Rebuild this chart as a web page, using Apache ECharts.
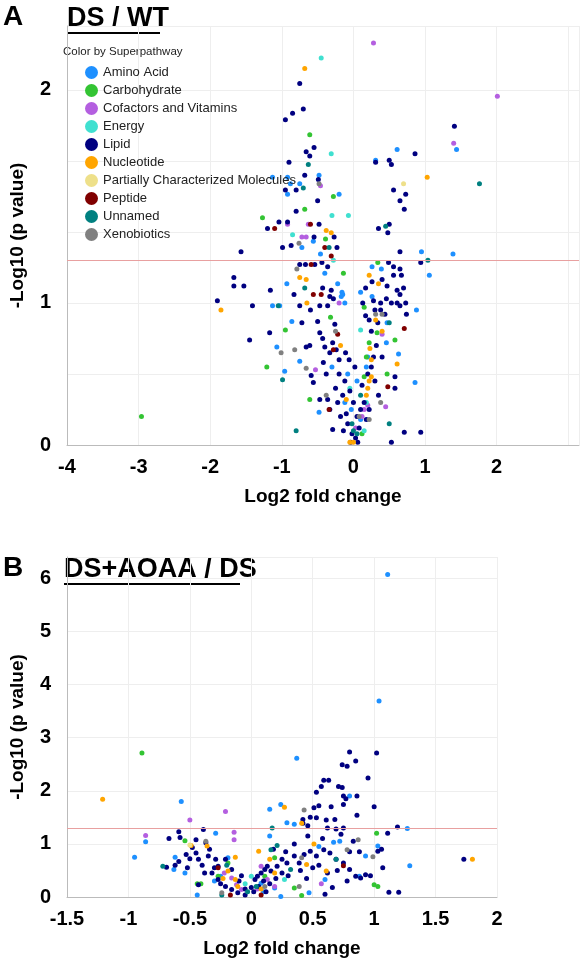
<!DOCTYPE html>
<html>
<head>
<meta charset="utf-8">
<script src="https://cdn.jsdelivr.net/npm/echarts@6/dist/echarts.min.js"></script>
<style>html,body{margin:0;padding:0;background:#fff}#chart{width:582px;height:961px}</style>
</head>
<body>
<div id="chart"></div>
<script>
const categories = ['Amino Acid', 'Carbohydrate', 'Cofactors and Vitamins', 'Energy', 'Lipid', 'Nucleotide',
  'Partially Characterized Molecules', 'Peptide', 'Unnamed', 'Xenobiotics'];
const colors = ['#1E90FF', '#33C433', '#B45FE0', '#40E0D0', '#000080', '#FFA500', '#EEE08A', '#800000', '#008080', '#808080'];

// panel A: DS / WT  [log2 fold change, -log10 p]
const wtAmino = [[0.61,1.72],[1.44,1.72],[0.31,1.67],[-1.13,1.59],[-0.92,1.59],[-0.48,1.60],[-0.88,1.56],[-0.75,1.56],[-0.92,1.51],[-0.20,1.51],
  [-0.72,1.26],[-0.56,1.29],[0.95,1.24],[1.39,1.23],[-0.46,1.23],[0.26,1.17],[0.39,1.16],[-0.40,1.14],[1.06,1.13],[-0.93,1.09],
  [-0.22,1.09],[-0.16,1.05],[-0.17,1.03],[0.10,1.05],[0.26,1.03],[-1.13,0.98],[-1.03,0.98],[-0.12,1.0],[-0.15,1.04],[0.88,0.95],
  [0.47,0.86],[-0.86,0.87],[-1.07,0.69],[0.63,0.64],[0.46,0.72],[0.86,0.44],[-0.96,0.52],[-0.75,0.59],[-0.48,0.23],
  [-0.03,0.25],[0.05,0.45],[0.18,0.55],[0.20,0.62],[-0.08,0.50],[0.10,0.18],[-0.30,0.55],[-0.12,0.30]];
const wtCarb = [[-0.61,1.79],[-0.28,1.50],[-0.68,1.44],[-1.27,1.40],[-0.39,1.30],[0.34,1.19],[-0.14,1.14],[0.15,0.97],[-0.95,0.81],
  [0.33,0.79],[0.58,0.74],[0.47,0.50],[-2.96,0.20],[-1.21,0.55],[-0.61,0.32],[0.15,0.48],[0.18,0.62],[0.22,0.72],[0.12,0.08],[-0.32,0.90]];
const wtCofac = [[0.28,2.22],[2.01,1.97],[1.40,1.75],[-0.46,1.55],[-0.92,1.37],[-0.63,1.37],[-0.72,1.31],[-0.66,1.31],[-0.20,1.0],
  [0.45,0.27],[-0.53,0.53],[0.15,0.25],[0.12,0.20],[0.03,0.12],[0.20,0.28],[0.40,0.78]];
const wtEnergy = [[-0.45,2.15],[-0.31,1.70],[-0.30,1.41],[-0.07,1.41],[-0.85,1.32],[-0.28,1.20],[0.10,0.81],[0.18,0.30],[0.15,0.10],[-0.05,0.40]];
const wtLipid = [[-0.75,2.03],[-0.70,1.91],[-0.85,1.89],[-0.95,1.86],[1.41,1.83],[-0.55,1.73],[-0.66,1.71],[-0.61,1.69],[0.86,1.70],
  [-0.90,1.66],[0.31,1.66],[0.50,1.67],[0.53,1.65],[-0.68,1.60],[-0.49,1.58],[-0.95,1.53],[-0.80,1.53],[0.56,1.53],[0.65,1.48],
  [0.73,1.51],[-0.50,1.48],[0.71,1.44],[-0.80,1.43],[-1.04,1.38],[-0.92,1.38],[-1.20,1.35],[-0.48,1.37],[0.50,1.37],[0.35,1.35],
  [0.48,1.33],[-0.55,1.31],[-0.27,1.31],[-0.23,1.26],[-0.99,1.26],[-0.87,1.27],[-1.57,1.24],[0.65,1.24],[0.49,1.19],[0.94,1.19],
  [0.56,1.17],[0.65,1.16],[-0.75,1.18],[-0.67,1.18],[-0.54,1.18],[-0.44,1.19],[-0.36,1.17],[-1.67,1.12],[-1.67,1.08],[-1.53,1.08],
  [0.56,1.13],[0.67,1.13],[0.26,1.10],[0.40,1.11],[0.47,1.08],[-1.16,1.06],[-0.83,1.04],[-0.43,1.07],[-0.31,1.06],[-0.33,1.03],
  [0.70,1.07],[0.61,1.06],[0.65,1.04],[0.17,1.07],[0.13,1.0],[0.28,1.01],[0.38,1.0],[0.46,1.02],[0.53,1.0],[0.61,1.0],[0.65,0.98],
  [0.73,1.0],[-1.90,1.01],[-1.41,0.98],[-0.75,0.98],[-0.60,0.95],[-0.47,0.98],[-0.36,0.98],[0.74,0.92],[0.17,0.91],[0.22,0.88],
  [0.34,0.86],[-1.17,0.79],[-1.45,0.74],[-0.72,0.86],[-0.66,0.69],[-0.61,0.70],[-0.47,0.79],[-0.43,0.75],[-0.40,0.69],[-0.33,0.65],
  [-0.29,0.72],[-0.24,0.67],[-0.20,0.60],[-0.11,0.65],[0.58,0.48],[0.58,0.40],[0.71,0.09],[0.94,0.09],[0.53,0.02],[-0.59,0.49],
  [-0.56,0.44],[-0.47,0.32],[-0.36,0.32],[-0.33,0.25],[-0.29,0.11],[-0.12,0.45],[-0.05,0.38],[0.0,0.30],[0.05,0.20],[-0.08,0.15],
  [0.10,0.25],[0.15,0.30],[-0.15,0.35],[-0.02,0.08],[0.03,0.05],[0.08,0.12],[-0.10,0.22],[0.12,0.42],[0.20,0.50],[0.25,0.55],
  [-0.20,0.50],[0.02,0.55],[-0.06,0.60],[0.18,0.18],[-0.18,0.20],[0.28,0.62],[0.32,0.70],[0.40,0.62],[-0.25,0.40],[-0.38,0.50],
  [0.30,0.45],[0.35,0.35],[-0.04,0.02],[0.06,0.02],[-0.14,0.10],[0.22,0.25],[0.38,0.95],[0.44,0.92],[-0.26,0.85],[-0.50,0.87],
  [-0.28,1.02],[0.25,0.80],[0.30,0.95],[-0.42,0.58],[-0.22,0.30]];
const wtNucleo = [[-0.68,2.10],[1.03,1.59],[-0.38,1.34],[-0.31,1.33],[-0.75,1.12],[-0.66,1.11],[0.22,1.13],[0.35,1.09],[-0.65,1.0],
  [-1.85,0.95],[0.31,0.88],[0.61,0.57],[0.20,0.40],[0.22,0.45],[0.25,0.48],[0.18,0.35],[-0.05,0.02],[0.0,0.02],[-0.10,0.32],
  [0.25,0.60],[0.23,0.68],[-0.18,0.70],[0.40,0.80]];
const wtPartial = [[0.70,1.56]];
const wtPeptide = [[-1.10,1.35],[-0.60,1.37],[-0.40,1.26],[-0.31,1.22],[-0.59,1.18],[-0.45,1.04],[-0.56,1.04],[0.71,0.82],[0.48,0.41],
  [-0.34,0.25],[-0.22,0.78],[-0.28,0.67]];
const wtUnnamed = [[1.76,1.56],[-0.63,1.65],[-0.70,1.54],[0.45,1.36],[-0.34,1.26],[1.04,1.20],[-0.68,1.07],[0.50,0.86],[-0.99,0.46],
  [-0.80,0.10],[0.50,0.15],[0.0,0.10],[0.05,0.08],[0.10,0.35],[-0.02,0.15],[-1.05,0.98]];
const wtXeno = [[-0.48,1.56],[-0.76,1.28],[-0.79,1.16],[0.31,0.92],[0.40,0.92],[-1.01,0.65],[-0.82,0.67],[-0.66,0.54],[-0.38,0.35],
  [0.08,0.20],[0.22,0.18],[-0.25,0.80],[0.38,0.30]];
const thresholdA = 1.2;

// panel B: DS+AOAA / DS
const aoAmino = [[1.11,6.07],[1.04,3.69],[0.37,2.61],[-0.57,1.80],[0.80,1.90],[0.24,1.74],[0.15,1.65],[0.29,1.40],[0.35,1.37],[1.27,1.29],
  [-0.29,1.20],[-0.86,1.04],[1.03,0.96],[1.29,0.59],[0.67,1.03],[-0.95,0.75],[-0.62,0.75],[-0.63,0.52],[-0.54,0.45],[-0.44,0.04],
  [-0.19,0.74],[-0.25,0.39],[0.08,0.26],[0.19,0.17],[0.24,0.01],[0.47,0.08],[0.60,0.33],[0.72,1.05],[0.88,0.39],[0.93,0.77],
  [-0.30,0.30],[0.10,0.10],[0.55,0.95],[0.15,1.15]];
const aoCarb = [[-0.89,2.71],[1.02,1.20],[-0.54,1.06],[-0.41,0.25],[-0.27,0.39],[-0.19,0.64],[0.11,0.39],[0.19,0.74],[0.35,0.17],
  [0.41,0.03],[1.0,0.23],[1.03,0.20],[-0.44,0.25]];
const aoCofac = [[-0.21,1.61],[-0.50,1.45],[-0.14,1.22],[-0.86,1.16],[-0.14,1.08],[-0.16,0.36],[-0.12,0.23],[-0.08,0.14],[0.08,0.58],
  [0.13,0.33],[0.19,0.20],[0.57,0.25],[-0.22,0.45],[0.05,0.15]];
const aoEnergy = [[0.0,0.39],[0.27,0.33],[-0.05,0.25]];
const aoLipid = [[0.80,2.73],[1.02,2.71],[0.85,2.56],[0.74,2.49],[0.78,2.46],[0.95,2.24],[0.59,2.20],[0.63,2.20],[0.71,2.08],[0.74,2.06],
  [0.57,2.08],[0.53,1.97],[0.75,1.90],[0.77,1.85],[0.86,1.90],[0.75,1.74],[0.55,1.72],[0.51,1.68],[0.65,1.70],[1.0,1.70],[0.86,1.54],
  [0.48,1.50],[0.53,1.49],[0.42,1.46],[0.61,1.45],[0.68,1.46],[0.42,1.39],[0.46,1.34],[0.62,1.30],[0.69,1.28],[0.75,1.30],[1.19,1.32],
  [-0.39,1.27],[-0.59,1.23],[1.11,1.20],[-0.67,1.10],[-0.58,1.12],[-0.45,1.08],[-0.37,1.02],[1.03,0.86],[1.07,0.55],[1.12,0.09],
  [1.20,0.09],[1.73,0.71],[-0.69,0.56],[-0.59,0.67],[-0.53,0.80],[-0.48,0.93],[-0.45,0.83],[-0.43,0.71],[-0.43,0.23],[-0.35,0.77],
  [-0.29,0.71],[-0.27,0.58],[-0.21,0.71],[-0.16,0.52],[-0.32,0.45],[-0.27,0.33],[-0.21,0.20],[-0.16,0.14],[-0.11,0.08],[-0.05,0.04],
  [0.03,0.33],[0.05,0.39],[0.08,0.45],[0.11,0.52],[0.13,0.58],[0.16,0.49],[0.21,0.58],[0.25,0.71],[0.29,0.64],[0.35,0.77],[0.39,0.64],
  [0.43,0.80],[0.48,0.86],[0.53,0.77],[0.59,0.89],[0.64,0.83],[0.69,0.71],[0.75,0.64],[0.80,0.52],[0.85,0.39],[0.89,0.36],[0.93,0.42],
  [-0.38,0.45],[-0.30,0.55],[-0.25,0.25],[-0.10,0.30],[-0.05,0.15],[0.02,0.10],[0.06,0.20],[0.10,0.30],[0.15,0.25],[0.20,0.35],
  [0.25,0.45],[0.30,0.40],[0.40,0.50],[0.45,0.35],[0.50,0.55],[0.55,0.60],[0.62,0.45],[0.70,0.50],[0.78,0.30],[0.80,0.85],[0.88,0.85],
  [0.83,1.05],[0.73,1.18],[0.58,1.10],[0.46,1.15],[0.35,1.00],[0.28,0.85],[0.18,0.90],[-0.62,0.60],[-0.52,0.55],[-0.40,0.60],
  [-0.34,0.90],[-0.50,0.72],[0.00,0.18],[-0.08,0.40],[0.12,0.10],[0.66,0.18],[0.60,0.05],[0.97,0.40],[1.06,0.90]];
const aoNucleo = [[-1.21,1.84],[0.27,1.69],[-0.49,0.97],[-0.36,0.96],[-0.13,0.75],[-0.19,0.49],[-0.13,0.33],[-0.11,0.20],[1.80,0.71],
  [0.06,0.86],[0.15,0.71],[0.19,0.45],[0.41,1.39],[0.51,1.0],[0.45,0.61],[0.61,0.49],[-0.23,0.35],[0.08,0.15]];
const aoPartial = [[-0.50,0.98]];
const aoPeptide = [[-0.27,0.55],[-0.17,0.04],[0.75,0.59],[0.08,0.04]];
const aoUnnamed = [[0.17,1.30],[-0.72,0.58],[-0.24,0.04],[-0.03,0.10],[0.04,0.20],[0.16,0.89],[0.21,0.97],[0.32,0.52],[0.69,0.71],[-0.20,0.60]];
const aoXeno = [[0.43,1.64],[-0.37,1.05],[0.87,1.08],[0.78,0.89],[0.99,0.76],[-0.24,0.08],[0.11,0.20],[0.41,0.74],[0.39,0.20]];
const thresholdB = 1.3;

const wtData = [wtAmino, wtCarb, wtCofac, wtEnergy, wtLipid, wtNucleo, wtPartial, wtPeptide, wtUnnamed, wtXeno];
const aoData = [aoAmino, aoCarb, aoCofac, aoEnergy, aoLipid, aoNucleo, aoPartial, aoPeptide, aoUnnamed, aoXeno];

// panel A y axis is stretched above 1: 0->0, 1->2, 2->5 on the drawn axis
const stretch = y => y <= 1 ? 2 * y : 2 + 3 * (y - 1);
const wtLabels = {0: '0', 2: '1', 5: '2'};

const font = 'Liberation Sans, Arial, sans-serif';
const tickLabel = {fontSize: 20, fontWeight: 'bold', color: '#000', fontFamily: font};
const axisName = {fontSize: 19, fontWeight: 'bold', color: '#000', fontFamily: font};
const splitLine = {show: true, lineStyle: {color: '#eeeeee'}};
const axisLine = {show: true, onZero: false, lineStyle: {color: '#bbbbbb'}};

const series = [];
categories.forEach((name, i) => {
  series.push({
    name: name, type: 'scatter', xAxisIndex: 0, yAxisIndex: 0, symbolSize: 5,
    itemStyle: {color: colors[i], opacity: 1},
    data: wtData[i].map(d => [d[0], stretch(d[1])]),
    markLine: i === 0 ? {silent: true, symbol: 'none', label: {show: false},
      lineStyle: {color: '#e8a0a0', type: 'solid', width: 1}, data: [{yAxis: stretch(thresholdA)}]} : undefined
  });
  series.push({
    name: name, type: 'scatter', xAxisIndex: 1, yAxisIndex: 1, symbolSize: 5,
    itemStyle: {color: colors[i], opacity: 1},
    data: aoData[i],
    markLine: i === 0 ? {silent: true, symbol: 'none', label: {show: false},
      lineStyle: {color: '#e8a0a0', type: 'solid', width: 1}, data: [{yAxis: thresholdB}]} : undefined
  });
});

const chart = echarts.init(document.getElementById('chart'));
chart.setOption({
  animation: false,
  backgroundColor: '#fff',
  grid: [
    {left: 62, top: 26, right: 0, bottom: 516},
    {left: 62, top: 557, right: 85, bottom: 64}
  ],
  legend: {
    orient: 'vertical', left: 80, top: 61, itemGap: 5, itemWidth: 13, itemHeight: 13, icon: 'circle',
    textStyle: {fontSize: 13, color: '#222', fontFamily: font},
    data: categories, selectedMode: false
  },
  xAxis: [
    {type: 'value', gridIndex: 0, min: -4, max: 3.15, interval: 1, name: 'Log2 fold change',
      nameLocation: 'middle', nameGap: 42, nameTextStyle: axisName,
      axisLabel: Object.assign({formatter: v => v > 2 ? '' : String(v), margin: 12}, tickLabel),
      axisLine: axisLine, axisTick: {show: false}, splitLine: splitLine},
    {type: 'value', gridIndex: 1, min: -1.5, max: 2, interval: 0.5, name: 'Log2 fold change',
      nameLocation: 'middle', nameGap: 42, nameTextStyle: axisName,
      axisLabel: Object.assign({margin: 12}, tickLabel),
      axisLine: axisLine, axisTick: {show: false}, splitLine: splitLine}
  ],
  yAxis: [
    {type: 'value', gridIndex: 0, min: 0, max: 5.9, interval: 1, name: '-Log10 (p value)',
      nameLocation: 'middle', nameGap: 40, nameRotate: 90, nameTextStyle: axisName,
      axisLabel: Object.assign({formatter: v => wtLabels[v] || '', margin: 16}, tickLabel),
      axisLine: axisLine, axisTick: {show: false}, splitLine: splitLine},
    {type: 'value', gridIndex: 1, min: 0, max: 6.4, interval: 1, name: '-Log10 (p value)',
      nameLocation: 'middle', nameGap: 40, nameRotate: 90, nameTextStyle: axisName,
      axisLabel: Object.assign({formatter: v => v > 6 ? '' : String(v), margin: 16}, tickLabel),
      axisLine: axisLine, axisTick: {show: false}, splitLine: splitLine}
  ],
  graphic: [
    {type: 'text', left: 3, top: 3, style: {text: 'A', font: 'bold 28px ' + font, fill: '#000'}},
    {type: 'text', left: 67, top: 5, style: {text: 'DS / WT', font: 'bold 27px ' + font, fill: '#000'}},
    {type: 'rect', left: 67, top: 32, shape: {width: 93, height: 2}, style: {fill: '#000'}},
    {type: 'text', left: 63, top: 46, style: {text: 'Color by Superpathway', font: '11.5px ' + font, fill: '#222'}},
    {type: 'text', left: 3, top: 554, style: {text: 'B', font: 'bold 28px ' + font, fill: '#000'}},
    {type: 'text', left: 64, top: 556, style: {text: 'DS+AOAA / DS', font: 'bold 27px ' + font, fill: '#000'}},
    {type: 'rect', left: 64, top: 583, shape: {width: 176, height: 2}, style: {fill: '#000'}}
  ],
  series: series
});
</script>
</body>
</html>
